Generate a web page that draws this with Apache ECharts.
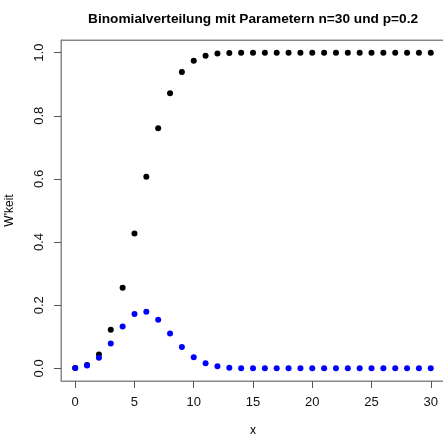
<!DOCTYPE html>
<html>
<head>
<meta charset="utf-8">
<script src="https://cdn.jsdelivr.net/npm/echarts@6/dist/echarts.min.js"></script>
<style>
  html, body { margin: 0; padding: 0; background: #fff; }
  #chart { width: 443px; height: 434px; }
</style>
</head>
<body>
<div id="chart"></div>
<script>
// Binomial distribution, n = 30, p = 0.2
const xValues = [0,1,2,3,4,5,6,7,8,9,10,11,12,13,14,15,16,17,18,19,20,21,22,23,24,25,26,27,28,29,30];
const pmfValues = [0.00124,0.00928,0.03366,0.07853,0.13252,0.17228,0.17946,0.15382,0.11056,0.06756,0.03547,0.01612,0.00638,0.00221,0.00067,0.00018,0.00004,0.00001,0,0,0,0,0,0,0,0,0,0,0,0,0];
const cdfValues = [0.00124,0.01052,0.04418,0.12271,0.25523,0.42751,0.60697,0.76079,0.87135,0.93891,0.97438,0.99050,0.99688,0.99909,0.99976,0.99994,0.99998,0.99999,1,1,1,1,1,1,1,1,1,1,1,1,1];
const xTicks = [0,5,10,15,20,25,30];
const yTicks = [0,0.2,0.4,0.6,0.8,1.0];

const font = "'Liberation Sans', Arial, sans-serif";
const frameColor = '#888888';
const chart = echarts.init(document.getElementById('chart'), null, { renderer: 'canvas' });

chart.setOption({
  animation: false,
  backgroundColor: '#ffffff',
  title: {
    text: 'Binomialverteilung mit Parametern n=30 und p=0.2',
    left: 83, top: 7,
    textStyle: { fontFamily: font, fontSize: 13.7, fontWeight: 'bold', color: '#000' }
  },
  grid: {
    left: 61, top: 40, width: 384, height: 341,
    outerBoundsMode: 'none', containLabel: false,
    show: true, borderColor: frameColor, borderWidth: 1, backgroundColor: 'rgba(0,0,0,0)'
  },
  xAxis: [
    {
      type: 'value', min: -1.2, max: 31.2, position: 'bottom',
      name: 'x', nameLocation: 'middle', nameGap: 44,
      nameTextStyle: { fontFamily: font, fontSize: 12, color: '#000' },
      axisLine: { show: true, onZero: false, lineStyle: { color: frameColor, width: 1 } },
      splitLine: { show: false },
      axisTick: { show: true, inside: false, length: 7, customValues: xTicks, lineStyle: { color: '#555' } },
      axisLabel: { customValues: xTicks, margin: 15, fontFamily: font, fontSize: 13, color: '#111' }
    },
    {
      // top edge of the frame
      type: 'value', min: -1.2, max: 31.2, position: 'top',
      axisLine: { show: true, onZero: false, lineStyle: { color: frameColor, width: 1 } },
      axisTick: { show: false }, axisLabel: { show: false }, splitLine: { show: false }
    }
  ],
  yAxis: {
    type: 'value', min: -0.04, max: 1.04, position: 'left',
    name: "W'keit", nameLocation: 'middle', nameGap: 45,
    nameTextStyle: { fontFamily: font, fontSize: 12, color: '#000' },
    axisLine: { show: true, onZero: false, lineStyle: { color: frameColor, width: 1 } },
    splitLine: { show: false },
    axisTick: { show: true, inside: false, length: 7, customValues: yTicks, lineStyle: { color: '#555' } },
    axisLabel: {
      customValues: yTicks, rotate: 90, margin: 15,
      fontFamily: font, fontSize: 13, color: '#111',
      formatter: v => Number(v).toFixed(1)
    }
  },
  series: [
    {
      name: 'Verteilungsfunktion', type: 'scatter', symbol: 'circle', symbolSize: 6,
      itemStyle: { color: '#000000', opacity: 1 },
      data: xValues.map((x, i) => [x, cdfValues[i]])
    },
    {
      name: 'Wahrscheinlichkeitsfunktion', type: 'scatter', symbol: 'circle', symbolSize: 6,
      itemStyle: { color: '#0000ff', opacity: 1 },
      data: xValues.map((x, i) => [x, pmfValues[i]])
    }
  ]
});
</script>
</body>
</html>
